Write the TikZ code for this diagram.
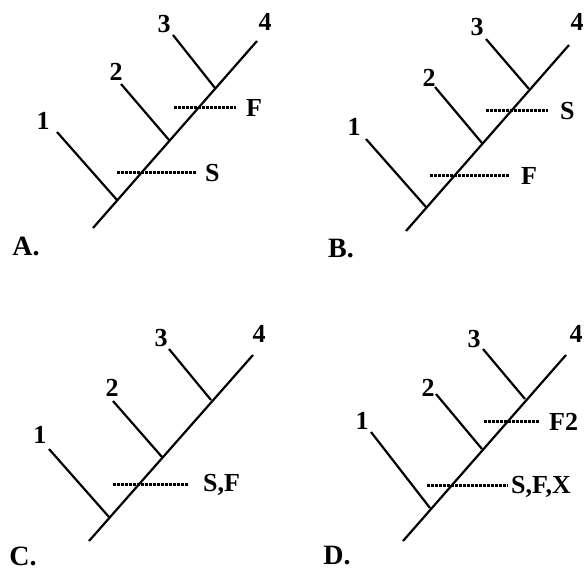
\documentclass[tikz,border=0pt]{standalone}
\usepackage{fontspec}
\setmainfont{Liberation Serif}
\begin{document}
\begin{tikzpicture}[x=1pt,y=-1pt,
  branch/.style={line width=2.2pt},
  dotline/.style={line width=3pt, dash pattern=on 2.5pt off 1.5pt},
  lbl/.style={font=\bfseries\fontsize{26}{26}\selectfont, inner sep=0pt},
  panel/.style={font=\bfseries\fontsize{28}{28}\selectfont, inner sep=0pt}]
\useasboundingbox (0,0) rectangle (587,579);
% ---------- A ----------
\coordinate (aR) at (93,228); \coordinate (aT) at (257,41);
\coordinate (a1) at (117,200); \coordinate (a1t) at (57,132);
\coordinate (a2) at (169,140); \coordinate (a2t) at (121,84);
\coordinate (a3) at (215,88); \coordinate (a3t) at (173,35);
\draw[branch] (aR) -- (aT);
\draw[branch] (a1) -- (a1t);
\draw[branch] (a2) -- (a2t);
\draw[branch] (a3) -- (a3t);
\node[lbl] (aL1) at (43,121) {1};
\node[lbl] (aL2) at (116,72) {2};
\node[lbl] (aL3) at (164,24) {3};
\node[lbl] (aL4) at (265,22) {4};
\node[lbl, anchor=west] (aF) at (246,108) {F};
\node[lbl, anchor=west] (aS) at (205,173) {S};
\coordinate (aFs) at (174,107); \coordinate (aFe) at (236,107);
\coordinate (aSs) at (117,172); \coordinate (aSe) at (196,172);
\draw[dotline] (aFs) -- (aFe);
\draw[dotline] (aSs) -- (aSe);
\node[panel] (pA) at (26,246) {A.};
% ---------- B ----------
\coordinate (bR) at (406,231); \coordinate (bT) at (569,45);
\coordinate (b1) at (426,207); \coordinate (b1t) at (366,139);
\coordinate (b2) at (482,143); \coordinate (b2t) at (435,87);
\coordinate (b3) at (529,89); \coordinate (b3t) at (486,39);
\draw[branch] (bR) -- (bT);
\draw[branch] (b1) -- (b1t);
\draw[branch] (b2) -- (b2t);
\draw[branch] (b3) -- (b3t);
\node[lbl] (bL1) at (354,127) {1};
\node[lbl] (bL2) at (429,78) {2};
\node[lbl] (bL3) at (477,27) {3};
\node[lbl] (bL4) at (577,22) {4};
\node[lbl, anchor=west] (bS) at (560,111) {S};
\node[lbl, anchor=west] (bF) at (521,176) {F};
\coordinate (bSs) at (486,110); \coordinate (bSe) at (548,110);
\coordinate (bFs) at (430,175); \coordinate (bFe) at (510,175);
\draw[dotline] (bSs) -- (bSe);
\draw[dotline] (bFs) -- (bFe);
\node[panel] (pB) at (341,249) {B.};
% ---------- C ----------
\coordinate (cR) at (89,541); \coordinate (cT) at (253,355);
\coordinate (c1) at (109,517); \coordinate (c1t) at (49,449);
\coordinate (c2) at (162,457); \coordinate (c2t) at (113,401);
\coordinate (c3) at (211,400); \coordinate (c3t) at (169,349);
\draw[branch] (cR) -- (cT);
\draw[branch] (c1) -- (c1t);
\draw[branch] (c2) -- (c2t);
\draw[branch] (c3) -- (c3t);
\node[lbl] (cL1) at (40,435) {1};
\node[lbl] (cL2) at (112,388) {2};
\node[lbl] (cL3) at (161,338) {3};
\node[lbl] (cL4) at (259,334) {4};
\node[lbl, anchor=west] (cSF) at (203,485) {S,F};
\coordinate (cSFs) at (113,484); \coordinate (cSFe) at (189,484);
\draw[dotline] (cSFs) -- (cSFe);
\node[panel] (pC) at (23,556) {C.};
% ---------- D ----------
\coordinate (dR) at (403,541); \coordinate (dT) at (566,355);
\coordinate (d1) at (430,508); \coordinate (d1t) at (371,432);
\coordinate (d2) at (482,449); \coordinate (d2t) at (436,394);
\coordinate (d3) at (525,399); \coordinate (d3t) at (483,349);
\draw[branch] (dR) -- (dT);
\draw[branch] (d1) -- (d1t);
\draw[branch] (d2) -- (d2t);
\draw[branch] (d3) -- (d3t);
\node[lbl] (dL1) at (362,421) {1};
\node[lbl] (dL2) at (428,388) {2};
\node[lbl] (dL3) at (474,339) {3};
\node[lbl] (dL4) at (576,334) {4};
\node[lbl, anchor=west] (dF2) at (549,422) {F2};
\node[lbl, anchor=west] (dSFX) at (511,487) {S,F,X};
\coordinate (dF2s) at (484,421); \coordinate (dF2e) at (540,421);
\coordinate (dSFXs) at (427,485); \coordinate (dSFXe) at (508,485);
\draw[dotline] (dF2s) -- (dF2e);
\draw[dotline] (dSFXs) -- (dSFXe);
\node[panel] (pD) at (337,556) {D.};
\end{tikzpicture}
\end{document}
